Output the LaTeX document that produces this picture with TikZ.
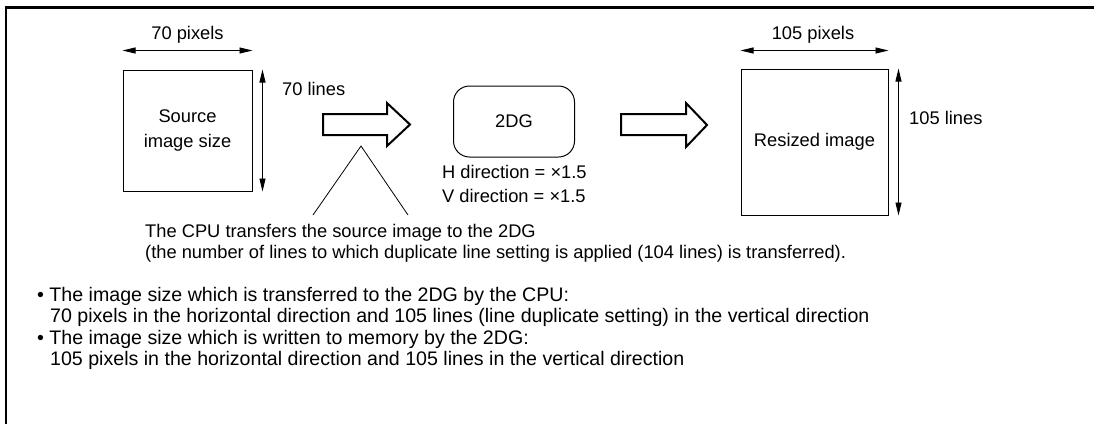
\documentclass[tikz,border=0pt]{standalone}
\usepackage{fontspec}
\setmainfont{Liberation Sans}
\usetikzlibrary{arrows.meta}
\begin{document}
\begin{tikzpicture}[x=1pt,y=-1pt,
  font=\fontsize{18.3}{22}\selectfont,
  box/.style={draw, line width=1pt, inner sep=0pt},
  dim/.style={line width=0.9pt, {Triangle[length=13pt,width=6pt]}-{Triangle[length=13pt,width=6pt]}},
  hollow/.style={draw, line width=2pt, line join=miter},
  lbl/.style={inner sep=0pt, anchor=west},
  note/.style={lbl, font=\fontsize{19.6}{22}\selectfont},
  two/.style={align=center, font=\fontsize{18.3}{25}\selectfont}]
\useasboundingbox (0,0) rectangle (1094,424);
% frame
\draw[line width=2.5pt] (6,424) -- (6,7.5) -- (1094,7.5);
% source image
\node[box, two, minimum width=129pt, minimum height=121pt] (src) at (187.5,130.5) {Source\\image size};
\draw[dim] ([yshift=19pt]src.north west) -- ([yshift=19pt]src.north east);
\node[inner sep=0pt] (srcw) at (187.5,35) {70 pixels};
\draw[dim] ([xshift=10pt]src.north east) -- ([xshift=10pt]src.south east);
\node[lbl] (srch) at (282,89) {70 lines};
% hollow arrow 1
\draw[hollow] (323,114) coordinate (a1) -- (387,114) -- (387,103) -- (410,124.5) coordinate (a1tip) -- (387,146) -- (387,135) -- (323,135) -- cycle;
% 2DG
\node[box, rounded corners=16pt, minimum width=121pt, minimum height=71pt] (dg) at (514,121.5) {2DG};
\node[lbl, align=left, font=\fontsize{18.3}{24}\selectfont] (dgtxt) at (442,184) {H direction = ×1.5\\V direction = ×1.5};
% hollow arrow 2
\draw[hollow] (621,114) coordinate (a2) -- (686,114) -- (686,103) -- (707,125) coordinate (a2tip) -- (686,147) -- (686,135) -- (621,135) -- cycle;
% resized image
\node[box, minimum width=147pt, minimum height=146pt] (res) at (814.5,142) {Resized image};
\draw[dim] ([yshift=18pt]res.north west) -- ([yshift=18pt]res.north east);
\node[inner sep=0pt] (resw) at (813,35) {105 pixels};
\draw[dim] ([xshift=10pt]res.north east) -- ([xshift=10pt]res.south east);
\node[lbl] (resh) at (909,118) {105 lines};
% callout triangle
\coordinate (apex) at (361,146);
\coordinate (tl) at (313,215);
\coordinate (tr) at (408,215);
\draw[line width=0.8pt] (tl) -- (apex) -- (tr);
% texts
\node[lbl] (cpu1) at (145,233) {The CPU transfers the source image to the 2DG};
\node[lbl] (cpu2) at (145,254) {(the number of lines to which duplicate line setting is applied (104 lines) is transferred).};
\node[note] (b1) at (37,296) {\textbullet\ The image size which is transferred to the 2DG by the CPU:};
\node[note] (b1b) at (50,317) {70 pixels in the horizontal direction and 105 lines (line duplicate setting) in the vertical direction};
\node[note] (b2) at (37,339) {\textbullet\ The image size which is written to memory by the 2DG:};
\node[note] (b2b) at (50,360) {105 pixels in the horizontal direction and 105 lines in the vertical direction};
\end{tikzpicture}
\end{document}
